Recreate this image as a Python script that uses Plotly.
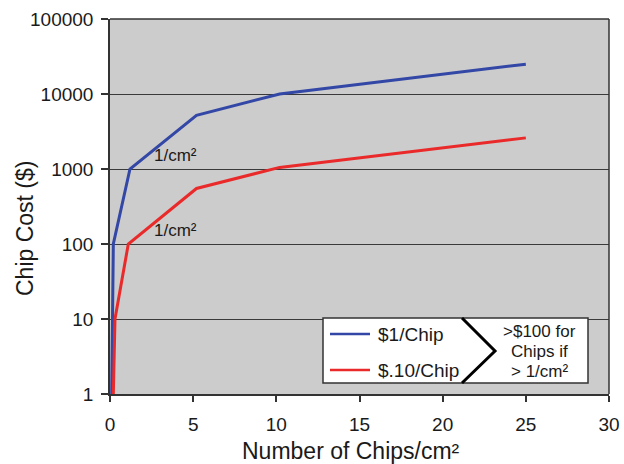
import plotly.graph_objects as go

# Data
blue_x = [0.1, 0.2, 1.2, 5.2, 10.2, 25]
blue_y = [1, 100, 1000, 5200, 10000, 25000]
red_x = [0.2, 0.3, 1.1, 5.2, 10.2, 25]
red_y = [1, 10, 100, 550, 1050, 2600]
series_names = ["$1/Chip", "$.10/Chip"]
y_ticks = [1, 10, 100, 1000, 10000, 100000]
y_tick_labels = ["1", "10", "100", "1000", "10000", "100000"]
x_ticks = [0, 5, 10, 15, 20, 25, 30]
note_lines = [">$100 for", "Chips if", "> 1/cm²"]

FONT = "Liberation Sans, Arial, sans-serif"
BLUE = "#3347a6"
RED = "#ea2a2a"
AX = "#333333"

fig = go.Figure()
fig.add_trace(go.Scatter(x=blue_x, y=blue_y, mode="lines", name=series_names[0],
                         line=dict(color=BLUE, width=3)))
fig.add_trace(go.Scatter(x=red_x, y=red_y, mode="lines", name=series_names[1],
                         line=dict(color=RED, width=3)))

fig.update_layout(
    width=624, height=464,
    margin=dict(l=110, r=15, t=19, b=70),
    paper_bgcolor="white",
    plot_bgcolor="#cccccc",
    font=dict(family=FONT, size=19, color="#1a1a1a"),
    showlegend=False,
)
fig.update_xaxes(range=[0, 30], tickvals=x_ticks, showgrid=False, zeroline=False,
                 showline=True, linecolor=AX, linewidth=1.5, automargin=False,
                 ticks="outside", ticklen=6, tickcolor=AX, tickwidth=1.5,
                 ticklabelstandoff=6)
fig.update_yaxes(type="log", range=[0, 5], tickvals=y_ticks, ticktext=y_tick_labels,
                 showgrid=True, gridcolor="#3a3a3a", gridwidth=1.3, zeroline=False,
                 showline=True, linecolor=AX, linewidth=1.5, automargin=False,
                 ticks="outside", ticklen=7, tickcolor=AX, tickwidth=1.5,
                 ticklabelstandoff=4)

# Screen-pixel to paper conversion (plot area: x 110..609, y 19..394 on screen)
W, H = 499.0, 375.0
def px(x):
    return (x - 110) / W
def py(y):
    return (394 - y) / H

# Axis titles
fig.add_annotation(xref="paper", yref="paper", x=px(351), y=py(451),
                   text="Number of Chips/cm²", showarrow=False,
                   font=dict(size=23), xanchor="center", yanchor="middle")
fig.add_annotation(xref="paper", yref="paper", x=px(25), y=py(229),
                   text="Chip Cost ($)", showarrow=False, textangle=-90,
                   font=dict(size=23), xanchor="center", yanchor="middle")

# Top and right border
fig.add_shape(type="line", xref="paper", yref="paper", x0=0, x1=1, y0=1, y1=1,
              line=dict(color=AX, width=1.5))
fig.add_shape(type="line", xref="paper", yref="paper", x0=1, x1=1, y0=0, y1=1,
              line=dict(color=AX, width=1.5))

# Legend box (white with border), samples, chevron and note
fig.add_shape(type="rect", xref="paper", yref="paper",
              x0=px(323), x1=px(588), y0=py(383), y1=py(318),
              fillcolor="white", line=dict(color=AX, width=1.5), layer="above")
for color, name, yy in [(BLUE, series_names[0], 334), (RED, series_names[1], 370)]:
    fig.add_shape(type="line", xref="paper", yref="paper",
                  x0=px(330), x1=px(370), y0=py(yy), y1=py(yy),
                  line=dict(color=color, width=2.5), layer="above")
    fig.add_annotation(xref="paper", yref="paper", x=px(376), y=py(yy),
                       text=name, showarrow=False, font=dict(size=19),
                       xanchor="left", yanchor="middle")
fig.add_shape(type="path", xref="paper", yref="paper",
              path=f"M {px(462)},{py(318)} L {px(495)},{py(351)} L {px(462)},{py(383)}",
              line=dict(color="black", width=3), layer="above")
for line_text, yy in zip(note_lines, [331, 351, 371]):
    fig.add_annotation(xref="paper", yref="paper", x=px(539), y=py(yy),
                       text=line_text, showarrow=False, font=dict(size=17),
                       xanchor="center", yanchor="middle", borderpad=0)

# "1/cm²" labels
fig.add_annotation(x=2.5, y=3, xanchor="left", yanchor="bottom", yshift=2,
                   text="1/cm²", showarrow=False, font=dict(size=17))
fig.add_annotation(x=2.5, y=2, xanchor="left", yanchor="bottom", yshift=2,
                   text="1/cm²", showarrow=False, font=dict(size=17))

fig.write_html("out.html",
               config={"displayModeBar": False},
               post_script="document.body.style.margin='0px';document.body.style.overflow='hidden';")
